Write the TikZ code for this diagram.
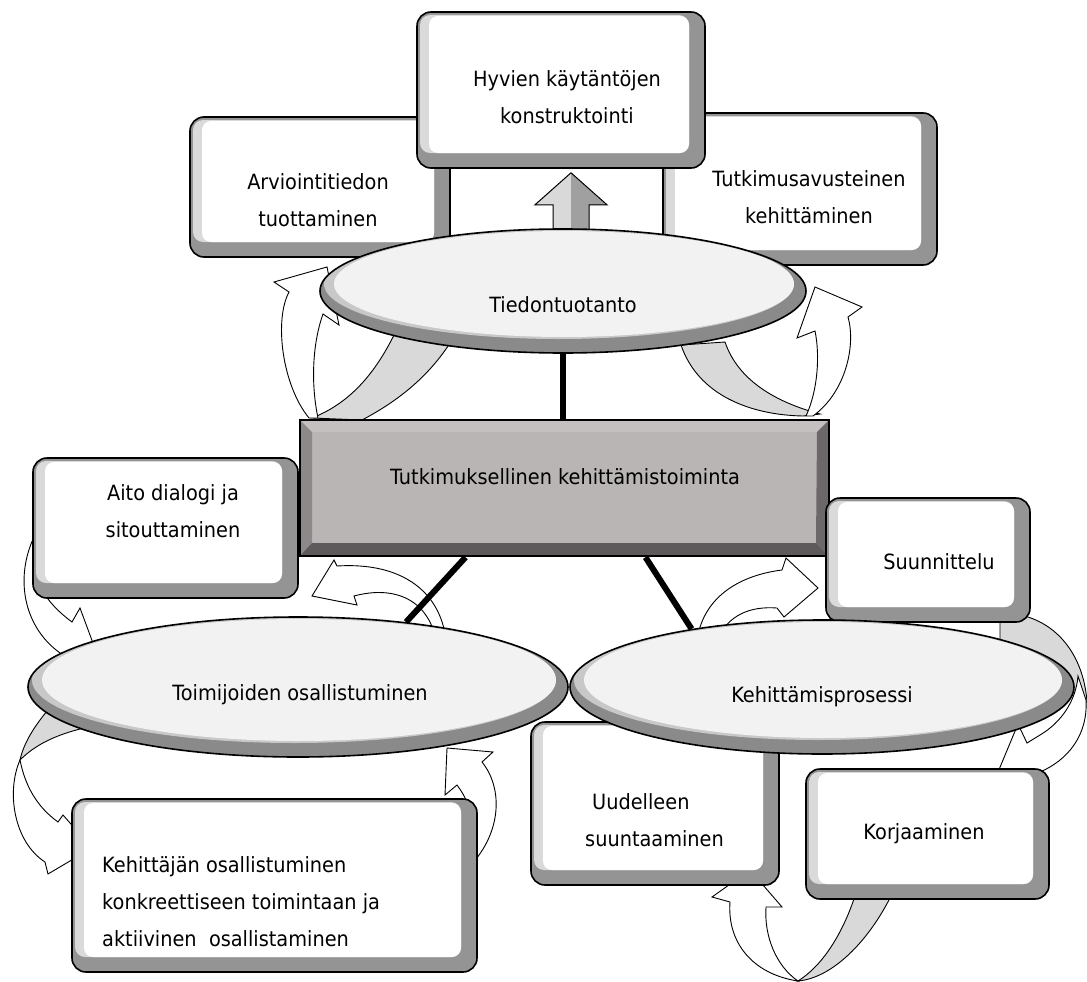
\documentclass[tikz,border=0pt]{standalone}
\usepackage{fontspec}
\setmainfont{DejaVu Sans}[FakeStretch=0.92]
\usepackage{tikz}
\usetikzlibrary{shapes.geometric,calc}
\definecolor{bevdark}{RGB}{148,148,148}
\definecolor{bevlight}{RGB}{218,218,218}
\definecolor{ringrim}{RGB}{138,138,138}
\definecolor{ringlight}{RGB}{200,200,200}
\definecolor{ringface}{RGB}{242,242,242}
\definecolor{coreface}{RGB}{185,181,180}
\definecolor{coretop}{RGB}{196,192,191}
\definecolor{coreleft}{RGB}{141,137,138}
\definecolor{corebottom}{RGB}{94,90,91}
\definecolor{coreright}{RGB}{108,104,105}
\definecolor{bandgray}{RGB}{217,217,217}
\definecolor{arrowdark}{RGB}{160,160,160}
\tikzstyle{txt} = [font=\fontsize{21}{37}\selectfont, align=center, inner sep=0pt]
\tikzstyle{tie} = [line width=6pt, black]
\tikzstyle{backband} = [fill=bandgray, draw=black, line width=0.9pt]
\tikzstyle{frontband} = [fill=white, draw=black, line width=0.9pt]
\tikzstyle{upblock} = [fill=bandgray, draw=black, line width=1pt,
  path picture={\fill[arrowdark] (path picture bounding box.north) rectangle (path picture bounding box.south east);}]
\tikzstyle{softbox} = [rectangle, rounded corners=14pt, draw=black, line width=1.6pt, fill=bevdark, inner sep=0pt,
  path picture={
    \fill[bevlight, rounded corners=10pt] ([shift={(3pt,-3pt)}]path picture bounding box.north west) rectangle ([shift={(-16pt,15pt)}]path picture bounding box.south east);
    \fill[white, rounded corners=9pt] ([shift={(12pt,-4pt)}]path picture bounding box.north west) rectangle ([shift={(-16pt,15pt)}]path picture bounding box.south east);
  }]
\tikzstyle{corebox} = [rectangle, draw=black, line width=2.6pt, fill=coreface, inner sep=0pt,
  path picture={
    \coordinate (nw) at (path picture bounding box.north west);
    \coordinate (ne) at (path picture bounding box.north east);
    \coordinate (sw) at (path picture bounding box.south west);
    \coordinate (se) at (path picture bounding box.south east);
    \fill[coretop] (nw) -- (ne) -- ([shift={(-12pt,-12pt)}]ne) -- ([shift={(12pt,-12pt)}]nw) -- cycle;
    \fill[coreleft] (nw) -- (sw) -- ([shift={(12pt,13pt)}]sw) -- ([shift={(12pt,-12pt)}]nw) -- cycle;
    \fill[corebottom] (sw) -- (se) -- ([shift={(-13pt,13pt)}]se) -- ([shift={(12pt,13pt)}]sw) -- cycle;
    \fill[coreright] (ne) -- (se) -- ([shift={(-13pt,13pt)}]se) -- ([shift={(-12pt,-12pt)}]ne) -- cycle;
  }]
\tikzset{ring/.style 2 args={ellipse, draw=black, line width=1.6pt, fill=ringrim, inner sep=0pt,
  minimum width={2*#1pt}, minimum height={2*#2pt},
  path picture={
    \fill[ringlight] ([shift={(-4pt,7pt)}]path picture bounding box.center) ellipse [x radius={#1pt-8pt}, y radius={#2pt-7pt}];
    \fill[ringface] ([shift={(1pt,7pt)}]path picture bounding box.center) ellipse [x radius={#1pt-13pt}, y radius={#2pt-9pt}];
  }}}

\begin{document}
\begin{tikzpicture}[x=1pt, y=-1pt]
    \useasboundingbox (0,0) rectangle (1087,982);

    % Turning arrows
    \draw[backband] (395,333) .. controls (372,380) and (345,405) .. (312,418) -- (362,420) .. controls (400,400) and (430,375) .. (452,340) -- cycle;
    \draw[frontband] (309,418) .. controls (282,385) and (274,320) .. (289,292) -- (274,282) -- (327,267) -- (339,325) -- (323,314) .. controls (312,345) and (311,385) .. (318,418) -- cycle;
    \draw[backband] (681,345) .. controls (698,395) and (750,415) .. (803,416) -- (820,414) .. controls (775,402) and (738,380) .. (725,342) -- cycle;
    \draw[frontband] (806,416) .. controls (818,390) and (820,355) .. (815,331) -- (797,338) -- (815,287) -- (862,307) -- (848,317) .. controls (856,345) and (846,392) .. (813,416) -- cycle;
    \draw[frontband] (36,533) .. controls (14,575) and (22,628) .. (63,655) -- (100,662) -- (80,608) -- (72,622) .. controls (45,602) and (30,578) .. (36,552) -- cycle;
    \draw[frontband] (446,640) .. controls (440,590) and (400,562) .. (337,566) -- (334,560) -- (312,596) -- (357,605) -- (354,596) .. controls (395,585) and (428,600) .. (436,640) -- cycle;
    \draw[backband] (52,705) .. controls (35,725) and (24,742) .. (20,760) .. controls (35,745) and (55,735) .. (84,728) -- cycle;
    \draw[frontband] (20,760) .. controls (6,792) and (14,842) .. (45,862) -- (48,874) -- (92,848) -- (63,815) -- (58,822) .. controls (36,806) and (25,785) .. (20,760) -- cycle;
    \draw[frontband] (470,866) .. controls (502,832) and (503,788) .. (482,762) -- (493,752) -- (447,748) -- (445,795) -- (457,785) .. controls (465,796) and (468,802) .. (467,812) -- cycle;
    \draw[frontband] (697,640) .. controls (703,600) and (735,576) .. (782,570) -- (786,558) -- (818,588) -- (784,617) -- (777,608) .. controls (750,606) and (728,615) .. (717,640) -- cycle;
    \draw[backband] (1000,612) -- (1028,617) .. controls (1062,628) and (1084,660) .. (1087,702) -- (1060,690) -- (1000,650) -- cycle;
    \draw[frontband] (1086,700) .. controls (1088,735) and (1068,760) .. (1040,772) -- (998,772) -- (1018,724) -- (1027,743) -- (1040,735) .. controls (1062,722) and (1076,700) .. (1078,676) -- cycle;
    \draw[backband] (798,981) .. controls (832,978) and (868,942) .. (891,896) -- (855,896) .. controls (842,935) and (822,966) .. (798,981) -- cycle;
    \draw[frontband] (730,902) .. controls (727,942) and (752,974) .. (798,981) .. controls (776,966) and (764,936) .. (766,907) -- (782,907) -- (750,870) -- (712,897) -- cycle;

    % Knowledge production
    \node[softbox, minimum width=260pt, minimum height=140pt] (arvio) at (320,187) {};
    \node[softbox, minimum width=274pt, minimum height=152pt] (tutkav) at (800,189) {};
    \node[softbox, minimum width=288pt, minimum height=156pt] (hyvien) at (561,90) {};
    \begin{scope}[shift={([xshift=10pt,yshift=-4pt]hyvien.south)}]
        \draw[upblock] (0,0) -- (36,32) -- (18,32) -- (18,62) -- (-18,62) -- (-18,32) -- (-36,32) -- cycle;
    \end{scope}
    \node[ring={243}{62}] (tied) at (563,291) {};

    % Core
    \node[corebox, minimum width=529pt, minimum height=136pt] (core) at (564.5,488) {};

    % Satellite boxes
    \node[softbox, minimum width=265pt, minimum height=140pt] (aito) at (165.5,528) {};
    \node[softbox, minimum width=405pt, minimum height=173pt] (kehittajan) at (274.5,885.5) {};
    \node[softbox, minimum width=204pt, minimum height=124pt] (suunn) at (928,560) {};
    \node[softbox, minimum width=248pt, minimum height=163pt] (uudell) at (655,803.5) {};
    \node[softbox, minimum width=243pt, minimum height=130pt] (korj) at (927.5,834) {};
    \node[ring={270}{70}] (toim) at (298,687) {};
    \node[ring={252}{67}] (kehit) at (822,687) {};

    % Ties
    \draw[tie] (tied.south) -- (tied.south |- core.north);
    \draw[tie] ([xshift=-99pt]core.south) -- (toim.31);
    \draw[tie] ([xshift=81pt]core.south) -- (kehit.156);

    % Labels
    \node[txt] (hyvien-txt) at (567,97) {Hyvien käytäntöjen\\konstruktointi};
    \node[txt] (arvio-txt) at (318,200) {Arviointitiedon\\tuottaminen};
    \node[txt] (tutkav-txt) at (809,197) {Tutkimusavusteinen\\kehittäminen};
    \node[txt] (tied-txt) at (563,305) {Tiedontuotanto};
    \node[txt] (core-txt) at (565,477) {Tutkimuksellinen kehittämistoiminta};
    \node[txt] (aito-txt) at (173,511) {Aito dialogi ja\\sitouttaminen};
    \node[txt] (toim-txt) at (300,695) {Toimijoiden osallistuminen};
    \node[txt, align=left, anchor=west] (kehittajan-txt) at (102,902) {Kehittäjän osallistuminen\\konkreettiseen toimintaan ja\\aktiivinen\ \ osallistaminen};
    \node[txt] (suunn-txt) at (939,562) {Suunnittelu};
    \node[txt] (kehit-txt) at (822,697) {Kehittämisprosessi};
    \node[txt, align=left, anchor=west] (uudell-txt) at (585,820) {\hspace*{7pt}Uudelleen\\suuntaaminen};
    \node[txt] (korj-txt) at (924,834) {Korjaaminen};
\end{tikzpicture}
\end{document}
